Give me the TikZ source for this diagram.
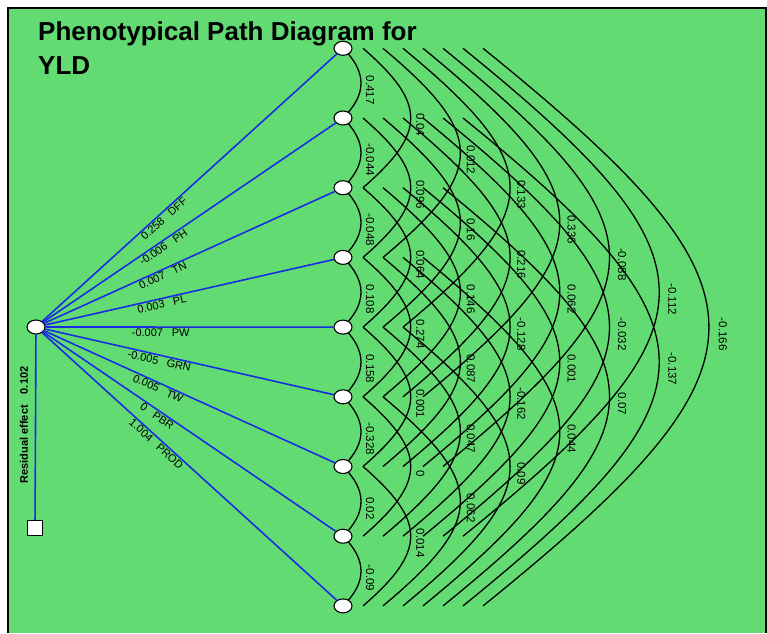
\documentclass[tikz,border=0pt]{standalone}
\usepackage{fontspec}
\setmainfont{Liberation Sans}
\usetikzlibrary{calc,shapes.geometric}
\definecolor{bggreen}{RGB}{98,220,114}
\definecolor{pathblue}{RGB}{25,45,225}
\begin{document}
\begin{tikzpicture}[x=1pt,y=-1pt,
  rnode/.style={ellipse, draw=black, fill=white, line width=1.1pt, minimum width=18pt, minimum height=14pt, inner sep=0pt},
  sqnode/.style={rectangle, draw=black, fill=white, line width=1.1pt, minimum size=15pt, inner sep=0pt},
  arcline/.style={draw=black, line width=1.3pt},
  pathline/.style={draw=pathblue, line width=1.6pt},
  lab/.style={font=\fontsize{11}{13}\selectfont, inner sep=1pt, text=black},
  arclab/.style={lab, font=\fontsize{11.5}{13}\selectfont, rotate=-90},
  reslab/.style={font=\bfseries\fontsize{11}{13}\selectfont, inner sep=0pt, rotate=90},
  titlab/.style={font=\bfseries\fontsize{26}{30}\selectfont, anchor=base west, inner sep=0pt}]
\useasboundingbox (0,0) rectangle (767,633);
\fill[white] (0,0) rectangle (767,633);
\fill[bggreen] (8,8) rectangle (767,633);
\draw[line width=1.5pt] (8,633) -- (8,8) -- (766,8) -- (766,633);
% positions of the right-hand nodes
\foreach \i in {1,...,9} {
  \pgfmathsetmacro\yy{48.3+69.7*(\i-1)}
  \coordinate (p\i) at (343,\yy);
}
% correlation arcs
\foreach \k in {1,...,8} {
  \pgfmathsetmacro\off{20*(\k-1)}
  \pgfmathsetmacro\oo{18+29.7*(\k-1)}
  \pgfmathsetmacro\cx{\off+4/3*\oo}
  \pgfmathsetmacro\cy{34.85*\k/3+2/3*\oo}
  \pgfmathtruncatemacro\n{9-\k}
  \foreach \i in {1,...,\n} {
    \pgfmathtruncatemacro\j{\i+\k}
    \draw[arcline] ($(p\i)+(\off,0)$)
      .. controls ($(p\i)+(\cx,\cy)$) and ($(p\j)+(\cx,-\cy)$) .. ($(p\j)+(\off,0)$);
  }
}
% arc labels
\foreach \i/\j/\v in {1/2/0.417, 1/3/0.04, 1/4/0.012, 1/5/0.133, 1/6/0.336, 1/7/-0.088, 1/8/-0.112, 1/9/-0.166,
  2/3/-0.044, 2/4/0.096, 2/5/0.16, 2/6/0.216, 2/7/0.062, 2/8/-0.032, 2/9/-0.137,
  3/4/-0.048, 3/5/0.064, 3/6/0.146, 3/7/-0.128, 3/8/0.001, 3/9/0.07,
  4/5/0.108, 4/6/0.274, 4/7/0.087, 4/8/-0.162, 4/9/0.044,
  5/6/0.158, 5/7/0.001, 5/8/0.047, 5/9/0.09,
  6/7/-0.328, 6/8/0, 6/9/0.062,
  7/8/0.02, 7/9/0.014,
  8/9/-0.09} {
  \pgfmathsetmacro\lx{370+50.4*(\j-\i-1)}
  \pgfmathsetmacro\ly{48.3+69.7*((\i+\j)/2-1)+7}
  \node[arclab] (c\i\j) at (\lx,\ly) {\v};
}
% nodes
\node[rnode] (L) at (36,327) {};
\foreach \i in {1,...,9} { \node[rnode] (r\i) at (p\i) {}; }
\node[sqnode] (S) at (35,528) {};
% direct paths
\foreach \i/\v/\nm in {1/0.258/DFF, 2/-0.006/PH, 3/0.007/TN, 4/0.003/PL, 5/-0.007/PW, 6/-0.005/GRN, 7/0.005/TW, 8/0/PBR, 9/1.004/PROD} {
  \draw[pathline] (L) -- (r\i) node[pos=0.4, sloped, below=0pt, lab] (b\i) {\v\hspace{0.8em}\nm};
}
\draw[pathline] (L) -- (S);
\node[reslab] (res) at (24,425) {Residual effect\hspace{1em}0.102};
% title
\node[titlab] (t1) at (38,40) {Phenotypical Path Diagram for};
\node[titlab] (t2) at (38,74) {YLD};
\end{tikzpicture}
\end{document}
